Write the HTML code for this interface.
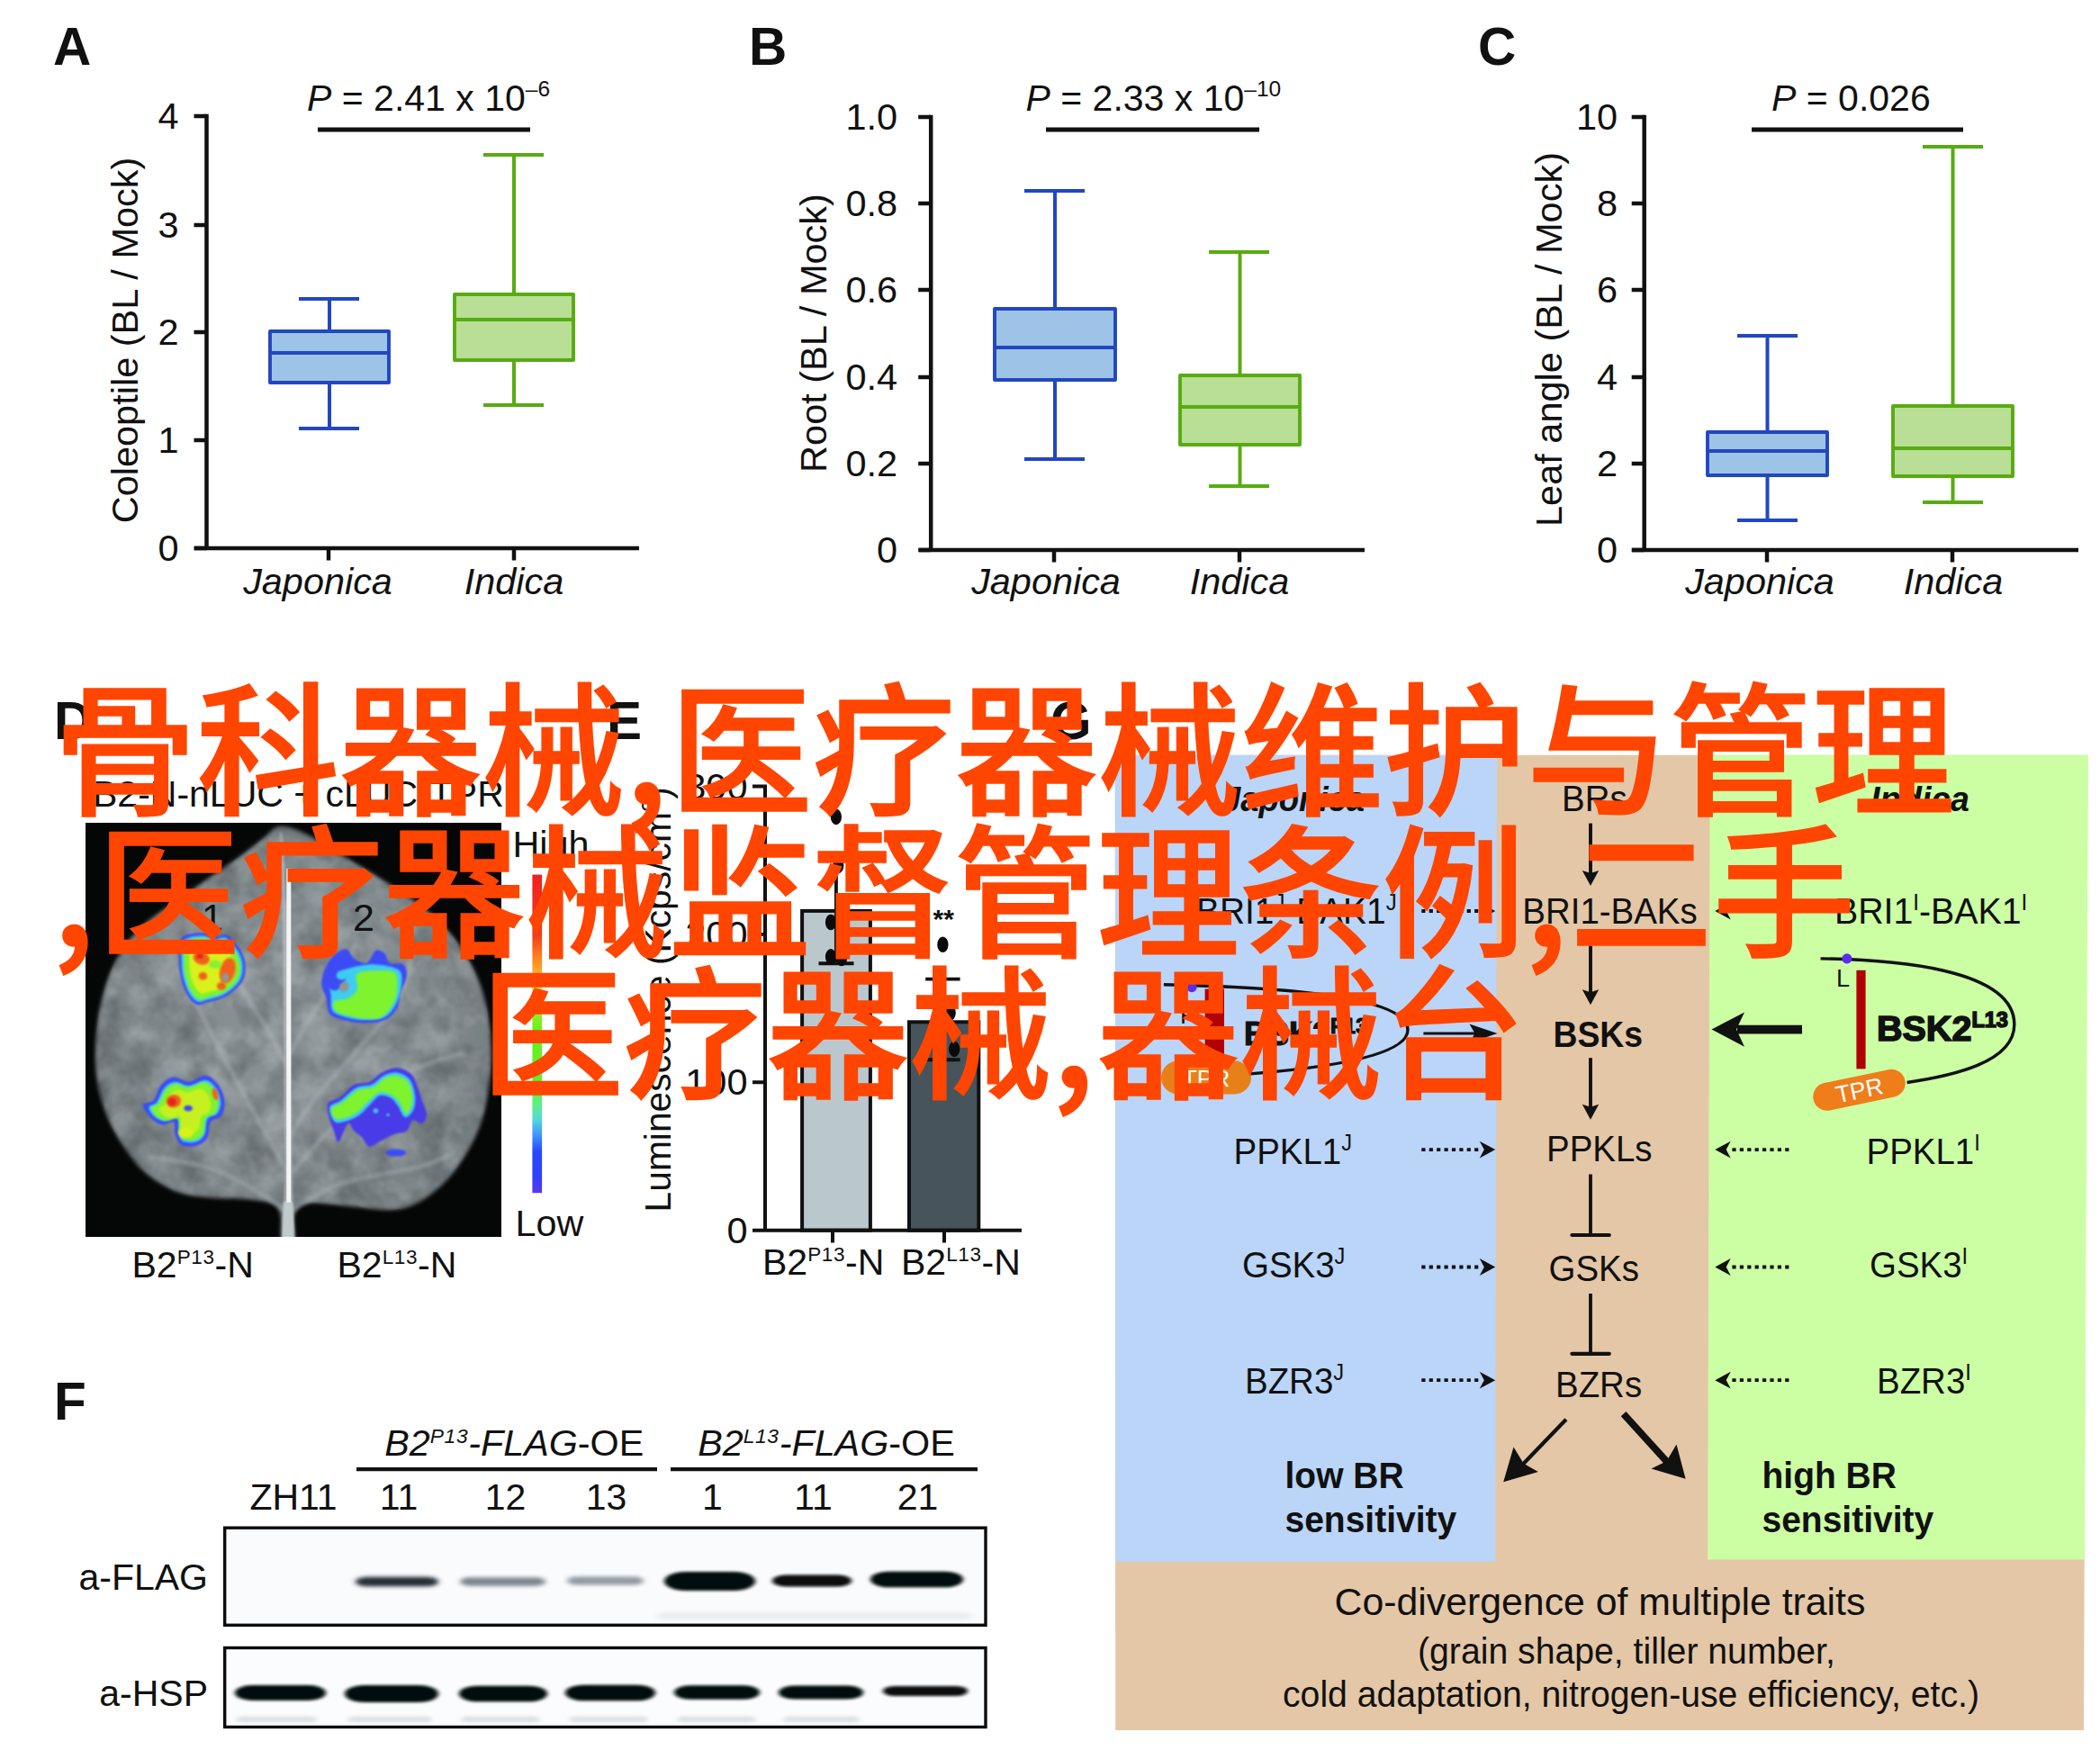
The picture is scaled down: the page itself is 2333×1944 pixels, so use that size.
<!DOCTYPE html>
<html lang="zh"><head><meta charset="utf-8"><title>figure</title>
<style>
html,body{margin:0;padding:0;background:#fff}
body{width:2333px;height:1944px;overflow:hidden}
svg{display:block}
text{font-family:"Liberation Sans","Noto Sans CJK SC",sans-serif;fill:#111}
.cjk{font-family:"Noto Sans CJK SC","Liberation Sans",sans-serif;font-weight:500;fill:#ff4500;font-size:158.65px;stroke:#ff4500;stroke-width:1.6px;stroke-linejoin:miter}
</style></head><body>
<svg width="2333" height="1944" viewBox="0 0 2333 1944">
<rect width="2333" height="1944" fill="#fff"/>
<defs>
<linearGradient id="cbar" x1="0" y1="0" x2="0" y2="1">
<stop offset="0" stop-color="#f02020"/><stop offset="0.19" stop-color="#f04018"/><stop offset="0.26" stop-color="#ff8020"/><stop offset="0.31" stop-color="#ffb030"/><stop offset="0.37" stop-color="#e8e830"/><stop offset="0.41" stop-color="#a0f020"/><stop offset="0.49" stop-color="#68f020"/><stop offset="0.64" stop-color="#60f028"/><stop offset="0.72" stop-color="#60f080"/><stop offset="0.77" stop-color="#50d8e0"/><stop offset="0.82" stop-color="#4090ff"/><stop offset="0.87" stop-color="#2848ff"/><stop offset="0.95" stop-color="#3040f8"/><stop offset="1" stop-color="#5838f0"/>
</linearGradient>
</defs>
<text x="59" y="72" font-size="58.5" font-weight="bold">A</text>
<path d="M229.5 126.7V609M216 609H710" stroke="#111" stroke-width="4.5" fill="none"/>
<text x="198.6" y="142.5" font-size="41.5" text-anchor="end">4</text>
<text x="198.6" y="263.5" font-size="41.5" text-anchor="end">3</text>
<text x="198.6" y="382.5" font-size="41.5" text-anchor="end">2</text>
<text x="198.6" y="502.5" font-size="41.5" text-anchor="end">1</text>
<text x="198.6" y="622.5" font-size="41.5" text-anchor="end">0</text>
<path d="M215.5 129H229.5M215.5 250H229.5M215.5 369H229.5M215.5 489H229.5M215.5 609H229.5M365 609V622.5M571 609V622.5" stroke="#111" stroke-width="4.5" fill="none"/>
<text transform="translate(152.8,378) rotate(-90)" font-size="41.5" text-anchor="middle">Coleoptile (BL / Mock)</text>
<path d="M366.0 332V368M366.0 425V476M332 332H399M332 476H399" stroke="#2247c0" stroke-width="4" fill="none"/>
<rect x="300" y="368" width="132" height="57" fill="#9dc4e6" stroke="#2247c0" stroke-width="3.9" stroke-linejoin="round"/>
<path d="M300 392H432" stroke="#2247c0" stroke-width="3.9"/>
<path d="M571.0 172V327M571.0 400V450M537 172H604M537 450H604" stroke="#58ab12" stroke-width="4" fill="none"/>
<rect x="505" y="327" width="132" height="73" fill="#b8df95" stroke="#58ab12" stroke-width="3.9" stroke-linejoin="round"/>
<path d="M505 355H637" stroke="#58ab12" stroke-width="3.9"/>
<text x="341" y="122.6" font-size="41"><tspan font-style="italic">P</tspan> = 2.41 x 10<tspan dy="-15.5" font-size="24.5">–6</tspan></text>
<path d="M353 144H589" stroke="#111" stroke-width="4.8"/>
<text x="353" y="660" font-size="41.4" text-anchor="middle" font-style="italic">Japonica</text>
<text x="571" y="660" font-size="41.4" text-anchor="middle" font-style="italic">Indica</text>
<text x="832" y="72" font-size="58.5" font-weight="bold">B</text>
<path d="M1034.2 127.7V611M1021 611H1516" stroke="#111" stroke-width="4.5" fill="none"/>
<text x="997.2" y="143.5" font-size="41.5" text-anchor="end">1.0</text>
<text x="997.2" y="239.5" font-size="41.5" text-anchor="end">0.8</text>
<text x="997.2" y="335.5" font-size="41.5" text-anchor="end">0.6</text>
<text x="997.2" y="432.5" font-size="41.5" text-anchor="end">0.4</text>
<text x="997.2" y="528.5" font-size="41.5" text-anchor="end">0.2</text>
<text x="997.2" y="624.5" font-size="41.5" text-anchor="end">0</text>
<path d="M1020.2 130H1034.2M1020.2 226H1034.2M1020.2 322H1034.2M1020.2 419H1034.2M1020.2 515H1034.2M1020.2 611H1034.2M1171 611V624.5M1377 611V624.5" stroke="#111" stroke-width="4.5" fill="none"/>
<text transform="translate(918,370) rotate(-90)" font-size="41.5" text-anchor="middle">Root (BL / Mock)</text>
<path d="M1172.0 212V343M1172.0 422V510M1138 212H1205M1138 510H1205" stroke="#2247c0" stroke-width="4" fill="none"/>
<rect x="1105" y="343" width="134" height="79" fill="#9dc4e6" stroke="#2247c0" stroke-width="3.9" stroke-linejoin="round"/>
<path d="M1105 386H1239" stroke="#2247c0" stroke-width="3.9"/>
<path d="M1377.5 280V417M1377.5 494V540M1343 280H1410M1343 540H1410" stroke="#58ab12" stroke-width="4" fill="none"/>
<rect x="1311" y="417" width="133" height="77" fill="#b8df95" stroke="#58ab12" stroke-width="3.9" stroke-linejoin="round"/>
<path d="M1311 452H1444" stroke="#58ab12" stroke-width="3.9"/>
<text x="1139.5" y="122.6" font-size="41"><tspan font-style="italic">P</tspan> = 2.33 x 10<tspan dy="-15.5" font-size="24.5">–10</tspan></text>
<path d="M1162 144H1399" stroke="#111" stroke-width="4.8"/>
<text x="1162" y="660" font-size="41.4" text-anchor="middle" font-style="italic">Japonica</text>
<text x="1377" y="660" font-size="41.4" text-anchor="middle" font-style="italic">Indica</text>
<text x="1642" y="72" font-size="58.5" font-weight="bold">C</text>
<path d="M1826.7 127.7V611M1813 611H2309" stroke="#111" stroke-width="4.5" fill="none"/>
<text x="1797.2" y="143.5" font-size="41.5" text-anchor="end">10</text>
<text x="1797.2" y="239.5" font-size="41.5" text-anchor="end">8</text>
<text x="1797.2" y="335.5" font-size="41.5" text-anchor="end">6</text>
<text x="1797.2" y="432.5" font-size="41.5" text-anchor="end">4</text>
<text x="1797.2" y="528.5" font-size="41.5" text-anchor="end">2</text>
<text x="1797.2" y="624.5" font-size="41.5" text-anchor="end">0</text>
<path d="M1812.7 130H1826.7M1812.7 226H1826.7M1812.7 322H1826.7M1812.7 419H1826.7M1812.7 515H1826.7M1812.7 611H1826.7M1963 611V624.5M2169 611V624.5" stroke="#111" stroke-width="4.5" fill="none"/>
<text transform="translate(1735,377) rotate(-90)" font-size="41.5" text-anchor="middle">Leaf angle (BL / Mock)</text>
<path d="M1963.5 373V480M1963.5 528V578M1930 373H1997M1930 578H1997" stroke="#2247c0" stroke-width="4" fill="none"/>
<rect x="1897" y="480" width="133" height="48" fill="#9dc4e6" stroke="#2247c0" stroke-width="3.9" stroke-linejoin="round"/>
<path d="M1897 501H2030" stroke="#2247c0" stroke-width="3.9"/>
<path d="M2169.5 163V451M2169.5 529V558M2136 163H2203M2136 558H2203" stroke="#58ab12" stroke-width="4" fill="none"/>
<rect x="2103" y="451" width="133" height="78" fill="#b8df95" stroke="#58ab12" stroke-width="3.9" stroke-linejoin="round"/>
<path d="M2103 498H2236" stroke="#58ab12" stroke-width="3.9"/>
<text x="1968" y="122.6" font-size="41"><tspan font-style="italic">P</tspan> = 0.026</text>
<path d="M1946 144H2181" stroke="#111" stroke-width="4.8"/>
<text x="1955" y="660" font-size="41.4" text-anchor="middle" font-style="italic">Japonica</text>
<text x="2170" y="660" font-size="41.4" text-anchor="middle" font-style="italic">Indica</text>
<path d="M1238.8 838.7H2319L2315 1922.1H1239.2Z" fill="#e4c7a6"/>
<path d="M1238.8 838.7H1663L1661.2 1734.8H1239.2Z" fill="#bad5f8"/>
<path d="M1899.7 838.7H2320L2315.7 1732.5H1897.1Z" fill="#ccfea4"/>
<text x="60" y="821" font-size="58.5" font-weight="bold">D</text>
<text x="103" y="896" font-size="41">B2-N-nLUC + cLUC-TPR</text>
<defs>
<clipPath id="lc"><rect x="95" y="914" width="462" height="460"/></clipPath>
<radialGradient id="lg" cx="330" cy="1140" r="240" gradientUnits="userSpaceOnUse"><stop offset="0" stop-color="#899295"/><stop offset=".6" stop-color="#838c8f"/><stop offset="1" stop-color="#727b7e"/></radialGradient>
<filter id="lb" x="-5%" y="-5%" width="110%" height="110%"><feGaussianBlur stdDeviation="2"/></filter>
<filter id="vb" x="-20%" y="-20%" width="140%" height="140%"><feGaussianBlur stdDeviation="1.6"/></filter>
<filter id="vb2" x="-20%" y="-20%" width="140%" height="140%"><feGaussianBlur stdDeviation="2.2"/></filter>
<filter id="sb" x="-20%" y="-20%" width="140%" height="140%"><feGaussianBlur stdDeviation="0.9"/></filter>
<filter id="tx" x="0" y="0" width="100%" height="100%"><feTurbulence type="fractalNoise" baseFrequency="0.035" numOctaves="3" seed="7"/><feColorMatrix type="matrix" values="0 0 0 0 1  0 0 0 0 1  0 0 0 0 1  1.6 0 0 0 -0.62"/><feComposite in2="SourceGraphic" operator="in"/></filter>
<filter id="tx2" x="0" y="0" width="100%" height="100%"><feTurbulence type="fractalNoise" baseFrequency="0.03" numOctaves="3" seed="23"/><feColorMatrix type="matrix" values="0 0 0 0 0  0 0 0 0 0  0 0 0 0 0  1.5 0 0 0 -0.6"/><feComposite in2="SourceGraphic" operator="in"/></filter>
</defs>
<rect x="95" y="914" width="462" height="460" fill="#050606"/>
<g clip-path="url(#lc)">
<path d="M310.0 918.5C302.8 919.5 300.5 925.3 293.0 931.0C285.5 936.7 274.8 945.3 265.0 952.5C255.2 959.7 244.2 966.8 234.0 974.0C223.8 981.2 213.7 988.5 203.5 995.7C193.3 1002.9 181.3 1010.3 172.6 1017.0C163.8 1023.7 157.7 1028.8 151.0 1036.0C144.3 1043.2 137.9 1051.3 132.5 1060.5C127.1 1069.7 122.5 1079.2 118.6 1091.0C114.7 1102.8 111.1 1117.0 109.0 1131.5C106.9 1146.0 105.7 1164.1 106.0 1178.0C106.3 1191.9 108.2 1203.2 111.0 1215.0C113.8 1226.8 117.9 1238.2 123.0 1249.0C128.1 1259.8 135.0 1270.4 141.7 1279.6C148.4 1288.8 153.8 1296.6 163.0 1304.0C172.2 1311.4 185.2 1319.6 197.0 1324.0C208.8 1328.4 221.7 1329.2 234.0 1330.5C246.3 1331.8 259.7 1331.0 271.0 1332.0C282.3 1333.0 295.2 1333.9 302.0 1336.7C308.8 1339.5 309.7 1342.5 311.5 1349.0C313.3 1355.5 310.4 1371.5 313.0 1376.0C315.6 1380.5 324.7 1380.5 327.0 1376.0C329.3 1371.5 324.5 1355.5 327.0 1349.0C329.5 1342.5 331.7 1338.2 342.0 1336.7C352.3 1335.2 373.1 1338.8 388.6 1340.0C404.1 1341.2 422.1 1344.8 435.0 1344.0C447.9 1343.2 455.7 1340.6 466.0 1335.0C476.3 1329.4 487.5 1320.2 496.7 1310.5C505.9 1300.8 514.3 1288.3 521.0 1276.5C527.7 1264.7 532.9 1253.4 536.8 1239.5C540.7 1225.6 543.2 1208.4 544.5 1193.0C545.8 1177.6 545.8 1161.9 544.5 1147.0C543.2 1132.1 540.7 1117.1 536.8 1103.7C532.9 1090.3 527.7 1078.5 521.0 1066.7C514.3 1054.9 505.9 1043.0 496.7 1032.7C487.5 1022.4 478.9 1014.8 466.0 1005.0C453.1 995.2 435.0 983.8 419.5 974.0C404.0 964.2 386.9 954.2 373.0 946.0C359.1 937.8 346.5 929.3 336.0 924.7C325.5 920.1 317.2 917.5 310.0 918.5Z" fill="url(#lg)" filter="url(#lb)"/>
<path d="M310.0 918.5C302.8 919.5 300.5 925.3 293.0 931.0C285.5 936.7 274.8 945.3 265.0 952.5C255.2 959.7 244.2 966.8 234.0 974.0C223.8 981.2 213.7 988.5 203.5 995.7C193.3 1002.9 181.3 1010.3 172.6 1017.0C163.8 1023.7 157.7 1028.8 151.0 1036.0C144.3 1043.2 137.9 1051.3 132.5 1060.5C127.1 1069.7 122.5 1079.2 118.6 1091.0C114.7 1102.8 111.1 1117.0 109.0 1131.5C106.9 1146.0 105.7 1164.1 106.0 1178.0C106.3 1191.9 108.2 1203.2 111.0 1215.0C113.8 1226.8 117.9 1238.2 123.0 1249.0C128.1 1259.8 135.0 1270.4 141.7 1279.6C148.4 1288.8 153.8 1296.6 163.0 1304.0C172.2 1311.4 185.2 1319.6 197.0 1324.0C208.8 1328.4 221.7 1329.2 234.0 1330.5C246.3 1331.8 259.7 1331.0 271.0 1332.0C282.3 1333.0 295.2 1333.9 302.0 1336.7C308.8 1339.5 309.7 1342.5 311.5 1349.0C313.3 1355.5 310.4 1371.5 313.0 1376.0C315.6 1380.5 324.7 1380.5 327.0 1376.0C329.3 1371.5 324.5 1355.5 327.0 1349.0C329.5 1342.5 331.7 1338.2 342.0 1336.7C352.3 1335.2 373.1 1338.8 388.6 1340.0C404.1 1341.2 422.1 1344.8 435.0 1344.0C447.9 1343.2 455.7 1340.6 466.0 1335.0C476.3 1329.4 487.5 1320.2 496.7 1310.5C505.9 1300.8 514.3 1288.3 521.0 1276.5C527.7 1264.7 532.9 1253.4 536.8 1239.5C540.7 1225.6 543.2 1208.4 544.5 1193.0C545.8 1177.6 545.8 1161.9 544.5 1147.0C543.2 1132.1 540.7 1117.1 536.8 1103.7C532.9 1090.3 527.7 1078.5 521.0 1066.7C514.3 1054.9 505.9 1043.0 496.7 1032.7C487.5 1022.4 478.9 1014.8 466.0 1005.0C453.1 995.2 435.0 983.8 419.5 974.0C404.0 964.2 386.9 954.2 373.0 946.0C359.1 937.8 346.5 929.3 336.0 924.7C325.5 920.1 317.2 917.5 310.0 918.5Z" fill="#fff" filter="url(#tx)" opacity=".28"/>
<path d="M310.0 918.5C302.8 919.5 300.5 925.3 293.0 931.0C285.5 936.7 274.8 945.3 265.0 952.5C255.2 959.7 244.2 966.8 234.0 974.0C223.8 981.2 213.7 988.5 203.5 995.7C193.3 1002.9 181.3 1010.3 172.6 1017.0C163.8 1023.7 157.7 1028.8 151.0 1036.0C144.3 1043.2 137.9 1051.3 132.5 1060.5C127.1 1069.7 122.5 1079.2 118.6 1091.0C114.7 1102.8 111.1 1117.0 109.0 1131.5C106.9 1146.0 105.7 1164.1 106.0 1178.0C106.3 1191.9 108.2 1203.2 111.0 1215.0C113.8 1226.8 117.9 1238.2 123.0 1249.0C128.1 1259.8 135.0 1270.4 141.7 1279.6C148.4 1288.8 153.8 1296.6 163.0 1304.0C172.2 1311.4 185.2 1319.6 197.0 1324.0C208.8 1328.4 221.7 1329.2 234.0 1330.5C246.3 1331.8 259.7 1331.0 271.0 1332.0C282.3 1333.0 295.2 1333.9 302.0 1336.7C308.8 1339.5 309.7 1342.5 311.5 1349.0C313.3 1355.5 310.4 1371.5 313.0 1376.0C315.6 1380.5 324.7 1380.5 327.0 1376.0C329.3 1371.5 324.5 1355.5 327.0 1349.0C329.5 1342.5 331.7 1338.2 342.0 1336.7C352.3 1335.2 373.1 1338.8 388.6 1340.0C404.1 1341.2 422.1 1344.8 435.0 1344.0C447.9 1343.2 455.7 1340.6 466.0 1335.0C476.3 1329.4 487.5 1320.2 496.7 1310.5C505.9 1300.8 514.3 1288.3 521.0 1276.5C527.7 1264.7 532.9 1253.4 536.8 1239.5C540.7 1225.6 543.2 1208.4 544.5 1193.0C545.8 1177.6 545.8 1161.9 544.5 1147.0C543.2 1132.1 540.7 1117.1 536.8 1103.7C532.9 1090.3 527.7 1078.5 521.0 1066.7C514.3 1054.9 505.9 1043.0 496.7 1032.7C487.5 1022.4 478.9 1014.8 466.0 1005.0C453.1 995.2 435.0 983.8 419.5 974.0C404.0 964.2 386.9 954.2 373.0 946.0C359.1 937.8 346.5 929.3 336.0 924.7C325.5 920.1 317.2 917.5 310.0 918.5Z" fill="#000" filter="url(#tx2)" opacity=".3"/>
<path d="M319.0 1300.0C314.2 1291.7 299.5 1266.7 290.0 1250.0C280.5 1233.3 271.0 1216.7 262.0 1200.0C253.0 1183.3 243.8 1165.0 236.0 1150.0C228.2 1135.0 221.3 1122.5 215.0 1110.0C208.7 1097.5 200.8 1080.8 198.0 1075.0" stroke="#b4bcbe" stroke-width="4" fill="none" opacity=".5" filter="url(#vb2)"/>
<path d="M318.0 1345.0C311.7 1340.8 293.0 1327.5 280.0 1320.0C267.0 1312.5 253.3 1305.0 240.0 1300.0C226.7 1295.0 212.5 1292.5 200.0 1290.0C187.5 1287.5 170.8 1285.8 165.0 1285.0" stroke="#b4bcbe" stroke-width="4" fill="none" opacity=".5" filter="url(#vb2)"/>
<path d="M322.0 1262.0C326.7 1255.0 339.5 1233.7 350.0 1220.0C360.5 1206.3 373.3 1193.3 385.0 1180.0C396.7 1166.7 410.0 1152.5 420.0 1140.0C430.0 1127.5 438.7 1118.3 445.0 1105.0C451.3 1091.7 455.8 1067.5 458.0 1060.0" stroke="#b4bcbe" stroke-width="4" fill="none" opacity=".5" filter="url(#vb2)"/>
<path d="M323.0 1305.0C329.2 1297.8 347.2 1274.8 360.0 1262.0C372.8 1249.2 386.7 1238.3 400.0 1228.0C413.3 1217.7 426.7 1208.0 440.0 1200.0C453.3 1192.0 467.5 1185.0 480.0 1180.0C492.5 1175.0 509.2 1171.7 515.0 1170.0" stroke="#b4bcbe" stroke-width="4" fill="none" opacity=".5" filter="url(#vb2)"/>
<path d="M324.0 1345.0C331.7 1340.5 354.0 1324.7 370.0 1318.0C386.0 1311.3 403.3 1308.8 420.0 1305.0C436.7 1301.2 455.8 1299.2 470.0 1295.0C484.2 1290.8 499.2 1282.5 505.0 1280.0" stroke="#b4bcbe" stroke-width="4" fill="none" opacity=".5" filter="url(#vb2)"/>
<path d="M317.0 1180.0C313.3 1173.3 302.8 1153.3 295.0 1140.0C287.2 1126.7 277.5 1113.3 270.0 1100.0C262.5 1086.7 253.3 1066.7 250.0 1060.0" stroke="#b4bcbe" stroke-width="4" fill="none" opacity=".5" filter="url(#vb2)"/>
<path d="M322.0 1170.0C325.8 1163.3 336.7 1143.3 345.0 1130.0C353.3 1116.7 363.7 1103.3 372.0 1090.0C380.3 1076.7 391.2 1056.7 395.0 1050.0" stroke="#b4bcbe" stroke-width="4" fill="none" opacity=".5" filter="url(#vb2)"/>
<path d="M311 925C315 1000 316 1200 317 1300L314 1376H327L324 1300C323 1200 321 1000 313 925Z" fill="#b9c1c3" opacity=".8" filter="url(#vb)"/>
<path d="M315 1335L313.5 1376H326.5L325 1335Z" fill="#c3cacc" filter="url(#sb)"/>
<rect x="318.3" y="964.8" width="5" height="371" fill="#f4f5f5"/>
<path d="M201.4 1042.3C205.6 1037.0 217.4 1036.6 223.7 1036.3C230.0 1036.0 234.3 1040.1 239.1 1040.6C244.0 1041.0 248.3 1036.6 252.8 1038.9C257.4 1041.1 263.3 1048.9 266.6 1054.3C269.8 1059.7 272.0 1065.7 272.6 1071.4C273.1 1077.1 272.1 1083.7 270.0 1088.6C267.8 1093.4 263.7 1097.1 259.7 1100.6C255.7 1104.0 250.8 1107.0 246.0 1109.1C241.1 1111.3 235.1 1112.3 230.6 1113.4C226.0 1114.6 222.3 1117.3 218.6 1116.0C214.8 1114.7 211.1 1110.3 208.3 1105.7C205.4 1101.1 203.0 1094.8 201.4 1088.6C199.9 1082.3 198.9 1075.7 198.9 1068.0C198.9 1060.3 197.3 1047.6 201.4 1042.3Z" fill="#3d4cf4" filter="url(#sb)"/>
<path d="M204.1 1045.0C207.9 1040.2 218.8 1039.8 224.6 1039.5C230.4 1039.3 234.3 1043.1 238.8 1043.5C243.3 1043.9 247.2 1039.8 251.4 1041.9C255.6 1044.0 261.0 1051.1 264.0 1056.1C267.1 1061.1 269.0 1066.6 269.6 1071.8C270.1 1077.1 269.2 1083.1 267.2 1087.6C265.2 1092.1 261.4 1095.5 257.7 1098.7C254.0 1101.8 249.6 1104.6 245.1 1106.5C240.6 1108.5 235.1 1109.4 230.9 1110.5C226.7 1111.5 223.3 1114.0 219.9 1112.8C216.5 1111.7 213.0 1107.6 210.4 1103.4C207.8 1099.2 205.6 1093.4 204.1 1087.6C202.7 1081.8 201.7 1075.8 201.7 1068.7C201.7 1061.6 200.3 1049.9 204.1 1045.0Z" fill="#3ccdf2" filter="url(#sb)"/>
<path d="M206.5 1047.4C210.0 1043.0 220.1 1042.6 225.4 1042.3C230.7 1042.1 234.4 1045.6 238.5 1046.0C242.6 1046.4 246.3 1042.6 250.2 1044.5C254.0 1046.5 259.0 1053.0 261.8 1057.6C264.6 1062.3 266.4 1067.4 266.9 1072.2C267.4 1077.1 266.6 1082.7 264.7 1086.8C262.9 1090.9 259.4 1094.1 256.0 1097.0C252.6 1099.9 248.5 1102.4 244.3 1104.3C240.2 1106.1 235.1 1106.9 231.2 1107.9C227.3 1108.9 224.2 1111.2 221.0 1110.1C217.9 1109.0 214.7 1105.2 212.3 1101.4C209.9 1097.5 207.8 1092.1 206.5 1086.8C205.1 1081.4 204.3 1075.9 204.3 1069.3C204.3 1062.7 202.9 1051.9 206.5 1047.4Z" fill="#7ef32e" filter="url(#sb)"/>
<path d="M212.2 1053.3C215.0 1049.7 223.0 1049.4 227.3 1049.2C231.6 1049.0 234.5 1051.8 237.8 1052.1C241.1 1052.4 244.0 1049.4 247.1 1051.0C250.2 1052.5 254.2 1057.8 256.4 1061.5C258.7 1065.1 260.1 1069.2 260.5 1073.1C260.9 1077.0 260.2 1081.5 258.8 1084.8C257.3 1088.1 254.5 1090.6 251.8 1092.9C249.1 1095.3 245.8 1097.3 242.5 1098.8C239.2 1100.2 235.1 1100.9 232.0 1101.7C228.9 1102.4 226.3 1104.3 223.8 1103.4C221.3 1102.5 218.8 1099.5 216.8 1096.4C214.9 1093.3 213.2 1089.0 212.2 1084.8C211.1 1080.5 210.4 1076.0 210.4 1070.8C210.4 1065.5 209.3 1056.9 212.2 1053.3Z" fill="#d9f01e" filter="url(#sb)"/>
<ellipse cx="223.7" cy="1064.6" rx="9.4" ry="6.9" fill="#f2611a" filter="url(#sb)" transform="rotate(20 223.7 1064.6)"/>
<ellipse cx="252.8" cy="1078.3" rx="8.6" ry="14.6" fill="#f2611a" filter="url(#sb)" transform="rotate(15 252.8 1078.3)"/>
<ellipse cx="225.4" cy="1084.3" rx="4.8" ry="4.3" fill="#f2611a" filter="url(#sb)"/>
<ellipse cx="250.3" cy="1086.0" rx="4.1" ry="5.1" fill="#8f9698" filter="url(#sb)"/>
<ellipse cx="222.0" cy="1062.0" rx="3.8" ry="3.1" fill="#e3281a" filter="url(#sb)"/>
<ellipse cx="246.0" cy="1095.4" rx="5.1" ry="4.3" fill="#f2611a" filter="url(#sb)"/>
<ellipse cx="239.1" cy="1071.4" rx="6.9" ry="4.3" fill="#7ef32e" filter="url(#sb)"/>
<path d="M360.8 1076.6C363.1 1071.1 367.1 1064.9 371.1 1061.1C375.1 1057.4 381.1 1053.7 384.8 1054.3C388.5 1054.9 389.7 1062.0 393.4 1064.6C397.1 1067.1 403.1 1071.1 407.1 1069.7C411.1 1068.3 414.0 1057.7 417.4 1056.0C420.8 1054.3 425.1 1057.1 427.7 1059.4C430.3 1061.7 429.4 1067.7 432.8 1069.7C436.3 1071.7 445.1 1068.9 448.3 1071.4C451.4 1074.0 452.3 1080.0 451.7 1085.1C451.1 1090.3 446.5 1096.6 444.8 1102.3C443.1 1108.0 444.3 1114.3 441.4 1119.4C438.5 1124.6 434.0 1130.3 427.7 1133.1C421.4 1136.0 411.4 1136.6 403.7 1136.6C396.0 1136.6 387.7 1134.8 381.4 1133.1C375.1 1131.4 369.1 1130.3 366.0 1126.3C362.8 1122.3 364.0 1114.6 362.5 1109.1C361.1 1103.7 357.7 1099.1 357.4 1093.7C357.1 1088.3 358.5 1082.0 360.8 1076.6Z" fill="#3d4cf4" filter="url(#sb)"/>
<path d="M372.8 1081.7C376.8 1078.9 382.5 1076.6 390.0 1074.9C397.4 1073.1 408.8 1071.1 417.4 1071.4C426.0 1071.7 436.5 1073.7 441.4 1076.6C446.3 1079.4 446.5 1082.6 446.5 1088.6C446.5 1094.6 444.5 1105.7 441.4 1112.6C438.3 1119.4 434.0 1126.3 427.7 1129.7C421.4 1133.1 411.1 1133.1 403.7 1133.1C396.3 1133.1 388.8 1131.4 383.1 1129.7C377.4 1128.0 372.0 1126.8 369.4 1122.8C366.8 1118.8 368.3 1110.8 367.7 1105.7C367.1 1100.6 365.1 1096.0 366.0 1092.0C366.8 1088.0 368.8 1084.6 372.8 1081.7Z" fill="#3ccdf2" filter="url(#sb)"/>
<path d="M396.8 1081.7C400.3 1078.3 410.5 1078.6 417.4 1078.3C424.3 1078.0 434.0 1077.4 438.0 1080.0C442.0 1082.6 441.4 1088.3 441.4 1093.7C441.4 1099.1 440.8 1106.6 438.0 1112.6C435.1 1118.6 430.0 1126.6 424.3 1129.7C418.5 1132.8 410.0 1131.7 403.7 1131.4C397.4 1131.1 391.7 1129.4 386.5 1128.0C381.4 1126.6 375.4 1125.4 372.8 1122.8C370.3 1120.3 368.8 1114.8 371.1 1112.6C373.4 1110.3 382.3 1111.4 386.5 1109.1C390.8 1106.8 395.1 1103.4 396.8 1098.8C398.5 1094.3 393.4 1085.1 396.8 1081.7Z" fill="#7ef32e" filter="url(#sb)"/>
<ellipse cx="372.8" cy="1088.6" rx="10.3" ry="12.0" fill="#3d4cf4" filter="url(#sb)" transform="rotate(30 372.8 1088.6)"/>
<ellipse cx="379.7" cy="1083.4" rx="6.0" ry="5.1" fill="#3ccdf2" filter="url(#sb)"/>
<ellipse cx="382.3" cy="1096.3" rx="5.1" ry="6.2" fill="#8f9698" filter="url(#sb)" transform="rotate(25 382.3 1096.3)"/>
<path d="M158.6 1227.4C158.9 1224.0 167.1 1226.0 170.6 1222.3C174.0 1218.5 175.4 1209.4 179.1 1205.1C182.9 1200.8 187.7 1197.1 192.9 1196.6C198.0 1196.0 204.0 1202.0 210.0 1201.7C216.0 1201.4 223.4 1194.3 228.8 1194.8C234.3 1195.4 239.1 1200.6 242.6 1205.1C246.0 1209.7 248.8 1216.5 249.4 1222.3C250.0 1228.0 248.6 1235.4 246.0 1239.4C243.4 1243.4 236.6 1242.3 234.0 1246.3C231.4 1250.3 233.1 1259.0 230.6 1263.4C228.0 1267.8 223.4 1271.4 218.6 1272.8C213.7 1274.3 205.4 1274.1 201.4 1272.0C197.4 1269.8 196.0 1264.3 194.6 1260.0C193.1 1255.7 195.1 1248.0 192.9 1246.3C190.6 1244.5 184.9 1250.3 180.9 1249.7C176.9 1249.1 172.6 1246.5 168.9 1242.8C165.1 1239.1 158.3 1230.8 158.6 1227.4Z" fill="#3d4cf4" filter="url(#sb)"/>
<path d="M165.4 1230.0C165.9 1227.4 171.1 1228.4 174.0 1224.8C176.9 1221.3 179.1 1212.4 182.6 1208.5C186.0 1204.7 190.0 1202.1 194.6 1201.7C199.1 1201.3 204.4 1206.3 210.0 1206.0C215.6 1205.7 223.1 1199.7 228.0 1200.0C232.8 1200.3 236.3 1203.8 239.1 1207.7C242.0 1211.5 244.7 1218.3 245.1 1223.1C245.6 1228.0 244.1 1233.5 241.7 1236.8C239.3 1240.1 233.0 1238.8 230.6 1242.8C228.1 1246.8 229.3 1256.5 227.1 1260.8C225.0 1265.1 221.7 1267.4 217.7 1268.5C213.7 1269.7 206.3 1269.3 203.1 1267.7C200.0 1266.1 199.9 1263.3 198.9 1259.1C197.9 1255.0 199.9 1245.1 197.1 1242.8C194.4 1240.5 186.9 1245.8 182.6 1245.4C178.3 1245.0 174.3 1242.8 171.4 1240.3C168.6 1237.7 165.0 1232.5 165.4 1230.0Z" fill="#3ccdf2" filter="url(#sb)"/>
<path d="M168.3 1230.2C168.7 1227.8 173.6 1228.7 176.3 1225.4C178.9 1222.1 181.0 1213.9 184.2 1210.3C187.4 1206.7 191.1 1204.3 195.4 1203.9C199.6 1203.5 204.6 1208.2 209.7 1207.9C214.9 1207.6 222.0 1202.0 226.5 1202.3C231.0 1202.6 234.2 1205.9 236.8 1209.5C239.5 1213.1 242.0 1219.3 242.4 1223.8C242.8 1228.3 241.5 1233.5 239.2 1236.6C237.0 1239.6 231.1 1238.4 228.9 1242.2C226.6 1245.9 227.7 1254.9 225.7 1258.9C223.7 1262.9 220.6 1265.0 216.9 1266.1C213.2 1267.1 206.3 1266.7 203.4 1265.3C200.4 1263.8 200.3 1261.2 199.4 1257.3C198.5 1253.5 200.3 1244.3 197.8 1242.2C195.3 1240.0 188.2 1245.0 184.2 1244.6C180.3 1244.2 176.5 1242.2 173.9 1239.8C171.2 1237.4 167.9 1232.6 168.3 1230.2Z" fill="#7ef32e" filter="url(#sb)"/>
<path d="M176.9 1230.9C177.2 1229.1 181.0 1229.8 183.1 1227.2C185.1 1224.6 186.8 1218.3 189.2 1215.5C191.7 1212.7 194.6 1210.9 197.9 1210.5C201.2 1210.2 205.0 1213.8 209.0 1213.6C213.0 1213.4 218.5 1209.1 221.9 1209.3C225.4 1209.5 227.9 1212.1 230.0 1214.9C232.0 1217.6 234.0 1222.5 234.3 1226.0C234.6 1229.5 233.6 1233.5 231.8 1235.8C230.1 1238.2 225.5 1237.3 223.8 1240.2C222.1 1243.0 222.9 1250.0 221.3 1253.1C219.8 1256.2 217.4 1257.9 214.5 1258.7C211.7 1259.5 206.3 1259.2 204.1 1258.1C201.8 1256.9 201.7 1254.9 201.0 1251.9C200.2 1248.9 201.7 1241.8 199.7 1240.2C197.8 1238.5 192.3 1242.3 189.2 1242.0C186.2 1241.7 183.3 1240.2 181.2 1238.3C179.2 1236.5 176.6 1232.8 176.9 1230.9Z" fill="#d9f01e" filter="url(#sb)" opacity="0.8"/>
<ellipse cx="192.9" cy="1223.1" rx="8.2" ry="7.2" fill="#f2611a" filter="url(#sb)" transform="rotate(-10 192.9 1223.1)"/>
<ellipse cx="239.1" cy="1215.4" rx="3.1" ry="6.9" fill="#f2611a" filter="url(#sb)" transform="rotate(-15 239.1 1215.4)"/>
<ellipse cx="191.1" cy="1224.0" rx="4.8" ry="4.5" fill="#e3281a" filter="url(#sb)"/>
<ellipse cx="209.1" cy="1231.2" rx="4.8" ry="3.4" fill="#3d4cf4" filter="url(#sb)"/>
<ellipse cx="206.6" cy="1258.3" rx="8.6" ry="6.0" fill="#d9f01e" filter="url(#sb)"/>
<path d="M364.3 1225.7C366.3 1221.7 373.1 1222.3 378.0 1218.8C382.8 1215.4 388.0 1208.0 393.4 1205.1C398.8 1202.3 405.4 1204.0 410.5 1201.7C415.7 1199.4 419.1 1194.0 424.3 1191.4C429.4 1188.8 436.0 1186.0 441.4 1186.3C446.8 1186.6 453.1 1189.7 456.8 1193.1C460.5 1196.6 461.7 1202.0 463.7 1206.8C465.7 1211.7 467.1 1217.1 468.8 1222.3C470.5 1227.4 474.0 1233.4 474.0 1237.7C474.0 1242.0 471.4 1246.8 468.8 1248.0C466.2 1249.1 461.4 1243.1 458.5 1244.5C455.7 1246.0 455.1 1254.0 451.7 1256.5C448.3 1259.1 442.5 1258.3 438.0 1260.0C433.4 1261.7 428.8 1264.5 424.3 1266.8C419.7 1269.1 414.3 1274.3 410.5 1273.7C406.8 1273.1 404.8 1266.3 402.0 1263.4C399.1 1260.5 396.0 1259.1 393.4 1256.5C390.8 1254.0 389.4 1246.0 386.5 1248.0C383.7 1250.0 378.8 1267.1 376.3 1268.5C373.7 1270.0 372.8 1260.8 371.1 1256.5C369.4 1252.3 367.1 1248.0 366.0 1242.8C364.8 1237.7 362.3 1229.7 364.3 1225.7Z" fill="#4a3be8" filter="url(#sb)"/>
<path d="M366.3 1230.0C367.5 1226.0 373.9 1225.9 378.8 1222.3C383.8 1218.6 390.3 1211.1 396.0 1208.2C401.7 1205.3 408.0 1207.1 413.1 1204.8C418.3 1202.5 422.1 1196.7 426.8 1194.5C431.5 1192.3 436.7 1190.6 441.4 1191.4C446.1 1192.2 451.8 1194.8 455.1 1199.1C458.4 1203.4 460.4 1211.5 461.1 1217.1C461.8 1222.7 461.3 1228.5 459.4 1232.5C457.5 1236.5 453.0 1242.0 450.0 1241.1C447.0 1240.3 444.3 1231.1 441.4 1227.4C438.5 1223.7 436.1 1220.5 432.8 1218.8C429.5 1217.1 425.1 1216.0 421.7 1217.1C418.3 1218.3 415.8 1222.3 412.3 1225.7C408.7 1229.1 404.4 1234.5 400.3 1237.7C396.1 1240.8 392.1 1243.1 387.4 1244.5C382.7 1246.0 375.5 1248.7 372.0 1246.3C368.5 1243.8 365.2 1234.0 366.3 1230.0Z" fill="#3ccdf2" filter="url(#sb)"/>
<path d="M368.5 1231.2C369.8 1228.2 375.7 1228.2 380.5 1224.8C385.4 1221.5 392.0 1214.0 397.7 1211.1C403.4 1208.3 409.8 1210.0 414.8 1207.7C419.9 1205.4 423.6 1199.5 428.0 1197.4C432.5 1195.3 437.2 1194.4 441.4 1195.2C445.6 1196.0 450.3 1198.4 453.1 1202.0C455.9 1205.7 457.6 1212.4 458.2 1217.1C458.8 1221.9 457.8 1227.2 456.5 1230.5C455.2 1233.8 452.5 1237.9 450.3 1236.8C448.1 1235.7 446.3 1227.5 443.5 1224.0C440.6 1220.4 436.9 1217.1 433.2 1215.4C429.4 1213.7 424.6 1212.5 420.8 1213.7C417.1 1214.8 414.3 1218.8 410.5 1222.3C406.8 1225.7 402.5 1231.1 398.5 1234.3C394.5 1237.4 390.8 1239.7 386.5 1241.1C382.3 1242.5 375.8 1244.5 372.8 1242.8C369.8 1241.2 367.3 1234.2 368.5 1231.2Z" fill="#7ef32e" filter="url(#sb)"/>
<ellipse cx="417.4" cy="1233.9" rx="2.7" ry="2.7" fill="#3ccdf2" filter="url(#sb)"/>
<ellipse cx="431.1" cy="1238.5" rx="1.7" ry="1.7" fill="#3ccdf2" filter="url(#sb)"/>
<ellipse cx="439.7" cy="1280.5" rx="11.7" ry="4.1" fill="#3d4cf4" filter="url(#sb)"/>
</g>
<text x="236" y="1034" font-size="43" text-anchor="middle" fill="#0a0a0a">1</text><text x="404" y="1034" font-size="43" text-anchor="middle" fill="#0a0a0a">2</text>
<text x="569.5" y="952" font-size="41.3">High</text>
<text x="572.5" y="1372.5" font-size="41.3">Low</text>
<rect x="591.4" y="971.6" width="10.7" height="353.6" fill="url(#cbar)"/>
<text x="146.5" y="1418.7" font-size="41">B2<tspan dy="-14.6" font-size="22.5" letter-spacing=".6">P13</tspan><tspan dy="14.6">-N</tspan></text>
<text x="374.5" y="1418.7" font-size="41">B2<tspan dy="-14.6" font-size="22.5" letter-spacing=".6">L13</tspan><tspan dy="14.6">-N</tspan></text>
<text x="674" y="821" font-size="58.5" font-weight="bold">E</text>
<text transform="translate(744.5,1346.5) rotate(-90)" font-size="40.8">Luminescence (Kcps/cm<tspan dy="-14" font-size="26">2</tspan><tspan dy="14">)</tspan></text>
<rect x="891.1" y="1011.9" width="75.8" height="354.8" fill="#bac8cd" stroke="#111" stroke-width="4"/>
<rect x="1010" y="1135.3" width="77.3" height="231.4" fill="#47545b" stroke="#111" stroke-width="4"/>
<text x="830.5" y="887.6" font-size="41.5" text-anchor="end">300</text>
<text x="830.5" y="1052" font-size="41.5" text-anchor="end">200</text>
<text x="830.5" y="1216.3" font-size="41.5" text-anchor="end">100</text>
<text x="830.5" y="1380.7" font-size="41.5" text-anchor="end">0</text>
<path d="M850 871.6V1366.7M840.1 1366.7H1135M836 873.6H850M836 1038H850M836 1202.3H850M836 1366.7H850M925 1366.7V1380.6M1049 1366.7V1380.6" stroke="#111" stroke-width="4" fill="none"/>
<path d="M928.9 948.6V1070.2M909.5 948.6H948.5M909.5 1070.2H948.5M1047.5 1087.6V1177.2M1028.2 1087.6H1066.6M1028.2 1177.2H1066.6" stroke="#111" stroke-width="3.9" fill="none"/>
<ellipse cx="928.9" cy="907.4" rx="6.1" ry="8.8" fill="#0a0a0a"/>
<ellipse cx="931.3" cy="961.4" rx="6.1" ry="8.8" fill="#0a0a0a"/>
<ellipse cx="923" cy="1024.5" rx="6.1" ry="8.8" fill="#0a0a0a"/>
<ellipse cx="923" cy="1062.9" rx="6.1" ry="8.8" fill="#0a0a0a"/>
<ellipse cx="935" cy="1064.5" rx="6.1" ry="8.8" fill="#0a0a0a"/>
<ellipse cx="1047.4" cy="1049.2" rx="6.1" ry="8.8" fill="#0a0a0a"/>
<ellipse cx="1055.7" cy="1125.1" rx="6.1" ry="8.8" fill="#0a0a0a"/>
<ellipse cx="1060.2" cy="1165.4" rx="6.1" ry="8.8" fill="#0a0a0a"/>
<text x="1036.5" y="1031" font-size="30" font-weight="bold">**</text>
<text x="847" y="1416" font-size="41">B2<tspan dy="-14.6" font-size="22.5" letter-spacing=".6">P13</tspan><tspan dy="14.6">-N</tspan></text>
<text x="1001" y="1416" font-size="41">B2<tspan dy="-14.6" font-size="22.5" letter-spacing=".6">L13</tspan><tspan dy="14.6">-N</tspan></text>
<text x="1167" y="821" font-size="58.5" font-weight="bold">G</text>
<text transform="translate(1735,901) scale(0.945,1)" font-size="40.7">BRs</text>
<text transform="translate(1691.3,1026.3) scale(0.945,1)" font-size="40.7">BRI1-BAKs</text>
<text transform="translate(1725.5,1163) scale(0.9,1)" font-size="41.5" font-weight="bold">BSKs</text>
<text transform="translate(1718,1289.8) scale(0.945,1)" font-size="40.7">PPKLs</text>
<text transform="translate(1720.5,1423) scale(0.945,1)" font-size="40.7">GSKs</text>
<text transform="translate(1728,1552) scale(0.945,1)" font-size="40.7">BZRs</text>
<path d="M1767 914.6V972" stroke="#111" stroke-width="3.9" fill="none"/>
<path d="M1767 984L1757.8 967L1767 970L1776.2 967Z" fill="#111"/>
<path d="M1767 1050.4V1104.3" stroke="#111" stroke-width="3.9" fill="none"/>
<path d="M1767 1116.3L1757.8 1099.3L1767 1102.3L1776.2 1099.3Z" fill="#111"/>
<path d="M1767 1175.2V1231.8" stroke="#111" stroke-width="3.9" fill="none"/>
<path d="M1767 1243.8L1757.8 1226.8L1767 1229.8L1776.2 1226.8Z" fill="#111"/>
<path d="M1767 1304.4V1372M1767 1437V1503.8" stroke="#111" stroke-width="3.8" fill="none"/>
<path d="M1746.4 1372H1787.8M1746.4 1503.8H1787.8" stroke="#111" stroke-width="4.2" stroke-linecap="round" fill="none"/>
<path d="M1579.3 1012H1642.8" stroke="#111" stroke-width="3.8" stroke-dasharray="4.2 4.2" fill="none"/>
<path d="M1661.2 1012L1643.8 1002.6L1648.8 1012L1643.8 1021.4Z" fill="#111"/>
<path d="M1987.4 1012H1923.7" stroke="#111" stroke-width="3.8" stroke-dasharray="4.2 4.2" fill="none"/>
<path d="M1905.3 1012L1922.7 1002.6L1917.7 1012L1922.7 1021.4Z" fill="#111"/>
<path d="M1579.3 1277.1H1642.8" stroke="#111" stroke-width="3.8" stroke-dasharray="4.2 4.2" fill="none"/>
<path d="M1661.2 1277.1L1643.8 1267.6999999999998L1648.8 1277.1L1643.8 1286.5Z" fill="#111"/>
<path d="M1987.4 1277.1H1923.7" stroke="#111" stroke-width="3.8" stroke-dasharray="4.2 4.2" fill="none"/>
<path d="M1905.3 1277.1L1922.7 1267.6999999999998L1917.7 1277.1L1922.7 1286.5Z" fill="#111"/>
<path d="M1579.3 1407.5H1642.8" stroke="#111" stroke-width="3.8" stroke-dasharray="4.2 4.2" fill="none"/>
<path d="M1661.2 1407.5L1643.8 1398.1L1648.8 1407.5L1643.8 1416.9Z" fill="#111"/>
<path d="M1987.4 1407.5H1923.7" stroke="#111" stroke-width="3.8" stroke-dasharray="4.2 4.2" fill="none"/>
<path d="M1905.3 1407.5L1922.7 1398.1L1917.7 1407.5L1922.7 1416.9Z" fill="#111"/>
<path d="M1579.3 1533.2H1642.8" stroke="#111" stroke-width="3.8" stroke-dasharray="4.2 4.2" fill="none"/>
<path d="M1661.2 1533.2L1643.8 1523.8L1648.8 1533.2L1643.8 1542.6000000000001Z" fill="#111"/>
<path d="M1987.4 1533.2H1923.7" stroke="#111" stroke-width="3.8" stroke-dasharray="4.2 4.2" fill="none"/>
<path d="M1905.3 1533.2L1922.7 1523.8L1917.7 1533.2L1922.7 1542.6000000000001Z" fill="#111"/>
<path d="M1739.9 1576.7L1691.7 1626.7" stroke="#111" stroke-width="4.2" fill="none"/>
<path d="M1670.2 1646.3L1681.5 1607.6L1692.7 1625.7L1708.9 1635Z" fill="#111"/>
<path d="M1803.6 1570.7L1852.4 1624.3" stroke="#111" stroke-width="7.7" fill="none"/>
<path d="M1872.6 1642.7L1862.5 1604.6L1851.4 1623.3L1834.5 1631.4Z" fill="#111"/>
<text transform="translate(1358,901.4) scale(0.96,1)" font-size="38" font-weight="bold" font-style="italic">Japonica</text>
<text transform="translate(1329,1025.7) scale(0.955,1)" font-size="40.7">BRI1<tspan dy="-15" font-size="25">J</tspan><tspan dy="15">-BAK1</tspan><tspan dy="-15" font-size="25">J</tspan></text>
<text transform="translate(1370.5,1292.9) scale(0.945,1)" font-size="40.7">PPKL1<tspan dy="-15" font-size="25">J</tspan></text>
<text transform="translate(1380,1419) scale(0.945,1)" font-size="40.7">GSK3<tspan dy="-15" font-size="25">J</tspan></text>
<text transform="translate(1383,1548) scale(0.945,1)" font-size="40.7">BZR3<tspan dy="-15" font-size="25">J</tspan></text>
<text transform="translate(1427.5,1652.8) scale(0.97,1)" font-size="40.2" font-weight="bold">low BR</text>
<text transform="translate(1427.5,1702) scale(0.97,1)" font-size="40.2" font-weight="bold">sensitivity</text>
<text transform="translate(2078,900.9) scale(1.0,1)" font-size="38" font-weight="bold" font-style="italic">Indica</text>
<text transform="translate(2038,1025.7) scale(0.965,1)" font-size="40.7">BRI1<tspan dy="-15" font-size="25">I</tspan><tspan dy="15">-BAK1</tspan><tspan dy="-15" font-size="25">I</tspan></text>
<text transform="translate(2073.5,1293) scale(0.945,1)" font-size="40.7">PPKL1<tspan dy="-15" font-size="25">I</tspan></text>
<text transform="translate(2077,1419) scale(0.945,1)" font-size="40.7">GSK3<tspan dy="-15" font-size="25">I</tspan></text>
<text transform="translate(2085,1548) scale(0.945,1)" font-size="40.7">BZR3<tspan dy="-15" font-size="25">I</tspan></text>
<text transform="translate(1957.5,1652.8) scale(0.97,1)" font-size="40.2" font-weight="bold">high BR</text>
<text transform="translate(1957.5,1702) scale(0.97,1)" font-size="40.2" font-weight="bold">sensitivity</text>
<text transform="translate(1482.5,1794) scale(1,1)" font-size="42.8">Co-divergence of multiple traits</text>
<text transform="translate(1575,1848) scale(0.975,1)" font-size="40.2">(grain shape, tiller number,</text>
<text transform="translate(1425,1896) scale(0.975,1)" font-size="40.2">cold adaptation, nitrogen-use efficiency, etc.)</text>
<path d="M2022.6 1064.9C2100 1066 2237.8 1075 2237.8 1138C2237.8 1180 2170 1195 2118.6 1202.5" stroke="#111" stroke-width="3.4" fill="none"/>
<circle cx="2051.9" cy="1064.9" r="5.6" fill="#5a2df0"/>
<text transform="translate(2040,1096) scale(1,1)" font-size="27">L</text>
<rect x="2062.4" y="1077.8" width="10.2" height="109.6" fill="#b00205"/>
<text x="2085" y="1155.9" font-size="39.5" font-weight="bold" stroke="#111" stroke-width="1.6">BSK2<tspan dy="-15" font-size="23.5">L13</tspan></text>
<g transform="translate(2065.5,1210.8) rotate(-11.8)"><rect x="-52" y="-15.5" width="104" height="31" rx="15.5" fill="#ef7d1a"/><text x="0" y="9.5" font-size="26.5" text-anchor="middle" style="fill:#fff">TPR</text></g>
<path d="M2002 1143.6H1930" stroke="#111" stroke-width="9.6" fill="none"/>
<path d="M1901.5 1143.6L1938 1124.5L1929 1143.6L1938 1162.7Z" fill="#111"/>
<path d="M1292.9 1093.7C1400 1096 1564 1104 1564 1144C1564 1176 1450 1188 1388.6 1192.9" stroke="#111" stroke-width="3.4" fill="none"/>
<circle cx="1324" cy="1096.6" r="5.6" fill="#5a2df0"/>
<text transform="translate(1311,1137) scale(1,1)" font-size="27">P</text>
<rect x="1338.6" y="1098.6" width="21.4" height="80" fill="#b00205"/>
<text x="1382" y="1161.4" font-size="36" font-weight="bold" stroke="#111" stroke-width="1.2">BSK2<tspan dy="-13" font-size="23">P13</tspan></text>
<g transform="translate(1340,1197)"><rect x="-50" y="-18.5" width="100" height="37" rx="18.5" fill="#e8801a"/><text x="0" y="9.5" font-size="26.5" text-anchor="middle" style="fill:#fff">TPR</text></g>
<path d="M1581.4 1148H1640" stroke="#111" stroke-width="2.8" fill="none"/>
<path d="M1663.5 1148L1632.5 1137.5L1638.5 1148L1632.5 1158.5Z" fill="#111"/>
<text x="60" y="1577" font-size="58.5" font-weight="bold">F</text>
<text x="427.3" y="1617.1" font-size="41.3"><tspan font-style="italic">B2<tspan dy="-13.8" font-size="22.8" letter-spacing=".6">P13</tspan><tspan dy="13.8">-FLAG</tspan></tspan>-OE</text>
<text x="775.3" y="1617.1" font-size="41.3"><tspan font-style="italic">B2<tspan dy="-13.8" font-size="22.8" letter-spacing=".6">L13</tspan><tspan dy="13.8">-FLAG</tspan></tspan>-OE</text>
<path d="M396 1632.1H730M745 1632.1H1086" stroke="#111" stroke-width="4.3"/>
<text x="326" y="1677" font-size="41" text-anchor="middle">ZH11</text>
<text x="443" y="1677" font-size="41" text-anchor="middle">11</text>
<text x="561.5" y="1677" font-size="41" text-anchor="middle">12</text>
<text x="673.5" y="1677" font-size="41" text-anchor="middle">13</text>
<text x="791.5" y="1677" font-size="41" text-anchor="middle">1</text>
<text x="903.5" y="1677" font-size="41" text-anchor="middle">11</text>
<text x="1019.5" y="1677" font-size="41" text-anchor="middle">21</text>
<text x="231" y="1766" font-size="41" text-anchor="end">a-FLAG</text>
<text x="231" y="1895" font-size="41" text-anchor="end">a-HSP</text>
<defs><filter id="bb" x="-10%" y="-60%" width="120%" height="220%"><feGaussianBlur stdDeviation="2.6 1.8"/></filter><filter id="bb2" x="-10%" y="-80%" width="120%" height="260%"><feGaussianBlur stdDeviation="3 2"/></filter><clipPath id="c1"><rect x="249.7" y="1697.2" width="845.3" height="108"/></clipPath><clipPath id="c2"><rect x="249.7" y="1830.5" width="845.3" height="88"/></clipPath></defs>
<rect x="249.7" y="1697.2" width="845.3" height="108.1" fill="#fafbfc"/>
<rect x="249.7" y="1830.5" width="845.3" height="88" fill="#fbfcfd"/>
<g clip-path="url(#c1)">
<rect x="395" y="1751.75" width="92" height="10.5" rx="12.1" ry="5.25" fill="#262e34" filter="url(#bb2)" opacity="1"/>
<rect x="511" y="1752.25" width="95" height="9.5" rx="10.9" ry="4.75" fill="#66717a" filter="url(#bb2)" opacity="0.85"/>
<rect x="630" y="1751.5" width="85" height="9" rx="10.3" ry="4.5" fill="#74808a" filter="url(#bb2)" opacity="0.8"/>
<rect x="738" y="1746.0" width="101" height="21" rx="24.1" ry="10.5" fill="#06080a" filter="url(#bb)" opacity="1"/>
<rect x="858" y="1749.5" width="88" height="13" rx="14.9" ry="6.5" fill="#080a0c" filter="url(#bb)" opacity="1"/>
<rect x="967" y="1745.75" width="103" height="17.5" rx="20.1" ry="8.75" fill="#06080a" filter="url(#bb)" opacity="1"/>
<rect x="730" y="1791.0" width="350" height="8" rx="9.2" ry="4.0" fill="#e9edf0" filter="url(#bb2)" opacity="1"/>
</g><g clip-path="url(#c2)">
<rect x="261" y="1872.0" width="101" height="17" rx="19.5" ry="8.5" fill="#06080a" filter="url(#bb)" opacity="1"/>
<rect x="383" y="1872.0" width="104" height="19" rx="21.8" ry="9.5" fill="#06080a" filter="url(#bb)" opacity="1"/>
<rect x="510" y="1872.75" width="98" height="17.5" rx="20.1" ry="8.75" fill="#06080a" filter="url(#bb)" opacity="1"/>
<rect x="628" y="1871.75" width="100" height="17.5" rx="20.1" ry="8.75" fill="#06080a" filter="url(#bb)" opacity="1"/>
<rect x="749" y="1872.25" width="95" height="15.5" rx="17.8" ry="7.75" fill="#06080a" filter="url(#bb)" opacity="1"/>
<rect x="865" y="1872.5" width="94" height="15" rx="17.2" ry="7.5" fill="#06080a" filter="url(#bb)" opacity="1"/>
<rect x="981" y="1873.0" width="94" height="11" rx="12.6" ry="5.5" fill="#080a0c" filter="url(#bb)" opacity="1"/>
<rect x="262" y="1907.5" width="90" height="5" rx="5.8" ry="2.5" fill="#c9d1d6" filter="url(#bb2)" opacity="0.8"/>
<rect x="386" y="1907.5" width="94" height="5" rx="5.8" ry="2.5" fill="#c9d1d6" filter="url(#bb2)" opacity="0.8"/>
<rect x="512" y="1907.5" width="88" height="5" rx="5.8" ry="2.5" fill="#c9d1d6" filter="url(#bb2)" opacity="0.8"/>
<rect x="632" y="1907.5" width="88" height="5" rx="5.8" ry="2.5" fill="#c9d1d6" filter="url(#bb2)" opacity="0.8"/>
<rect x="752" y="1907.5" width="88" height="5" rx="5.8" ry="2.5" fill="#c9d1d6" filter="url(#bb2)" opacity="0.8"/>
<rect x="870" y="1907.5" width="85" height="5" rx="5.8" ry="2.5" fill="#c9d1d6" filter="url(#bb2)" opacity="0.8"/>
</g>
<rect x="249.7" y="1697.2" width="845.3" height="108.1" fill="none" stroke="#0c0c0c" stroke-width="3.4"/>
<rect x="249.7" y="1830.5" width="845.3" height="88" fill="none" stroke="#0c0c0c" stroke-width="3.4"/>
<text class="cjk" x="59.8" y="892.6">骨科器械,<tspan dx="2.5">医疗器械维护与管理</tspan></text>
<text class="cjk" x="58.3" y="1050.5">,<tspan dx="2.5">医疗器械监督管理条例,</tspan><tspan dx="2.5">二手</tspan></text>
<text class="cjk" x="534.2" y="1208.4">医疗器械,<tspan dx="2.5">器械台</tspan></text>
</svg></body></html>
